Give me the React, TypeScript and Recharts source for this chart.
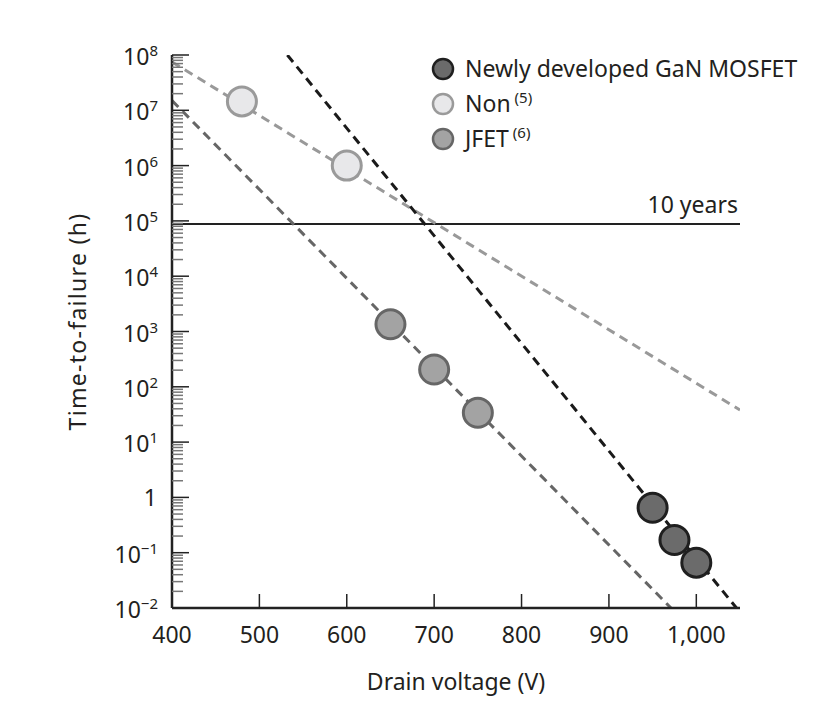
import React from 'react';
import { ComposedChart, XAxis, YAxis, Line, Scatter, ReferenceLine, Label } from 'recharts';

const FONT = '"Noto Sans", sans-serif';
const TXT = '#231f20';
const FS = 23;

// Series data (drain voltage V, time-to-failure h)
const nonPoints = [
  { v: 480, t: 1.45e7 },
  { v: 600, t: 1.0e6 },
];
const jfetPoints = [
  { v: 650, t: 1.35e3 },
  { v: 700, t: 2.05e2 },
  { v: 750, t: 3.4e1 },
];
const ganPoints = [
  { v: 950, t: 0.65 },
  { v: 975, t: 0.17 },
  { v: 1000, t: 0.066 },
];
// Fitted trend lines (end points)
const nonFit = [
  { v: 400, t: 7.5e7 },
  { v: 1050, t: 38 },
];
const jfetFit = [
  { v: 400, t: 1.5e7 },
  { v: 971, t: 0.01 },
];
const ganFit = [
  { v: 532, t: 1e8 },
  { v: 1046, t: 0.01 },
];
const tenYears = 87600;

const xTicks = [400, 500, 600, 700, 800, 900, 1000];
const xTickLabels = ['400', '500', '600', '700', '800', '900', '1,000'];
const yMajorExp = [-2, -1, 0, 1, 2, 3, 4, 5, 6, 7, 8];
const yMajorTicks = yMajorExp.map((e) => Math.pow(10, e));
const yMinorMult = [2, 3, 4, 5, 6, 7, 8, 9];
const yAllTicks: number[] = [];
yMajorExp.forEach((e, i) => {
  yAllTicks.push(yMajorTicks[i]);
  if (e < 8) yMinorMult.forEach((m) => yAllTicks.push(m * Math.pow(10, e)));
});

const legendItems = [
  { name: 'Newly developed GaN MOSFET', sup: '', fill: '#6b6b6b', stroke: '#1f1f1f' },
  { name: 'Non', sup: '(5)', fill: '#e8e8ea', stroke: '#9a9a9a' },
  { name: 'JFET', sup: '(6)', fill: '#a3a3a3', stroke: '#666666' },
];

const YTick = (props: any) => {
  const { x, y, payload } = props;
  const v = payload.value as number;
  const lg = Math.log10(v);
  const e = Math.round(lg);
  const major = Math.abs(lg - e) < 1e-6;
  if (!major) {
    return <line x1={x} x2={x + 11} y1={y} y2={y} stroke="#777" strokeWidth={1.5} />;
  }
  let label: React.ReactNode;
  if (e === 0) {
    label = (
      <text x={x - 15} y={y + 9} textAnchor="end" fontSize={FS} fill={TXT} fontFamily={FONT}>
        1
      </text>
    );
  } else {
    const sup = e < 0 ? '\u2212' + Math.abs(e) : String(e);
    label = (
      <text x={x - 14} y={y + 10} textAnchor="end" fontSize={FS} fill={TXT} fontFamily={FONT}>
        <tspan>10</tspan>
        <tspan dy={-9} fontSize={15}>
          {sup}
        </tspan>
      </text>
    );
  }
  return (
    <g>
      {e > -2 && <line x1={x} x2={x + 17} y1={y} y2={y} stroke="#222" strokeWidth={1.5} />}
      {label}
    </g>
  );
};

const XTick = (props: any) => {
  const { x, y, payload } = props;
  const idx = xTicks.indexOf(payload.value);
  return (
    <g>
      {idx > 0 && <line x1={x} x2={x} y1={y} y2={y - 14} stroke="#222" strokeWidth={1.5} />}
      <text x={x} y={y + 35} textAnchor="middle" fontSize={FS} fill={TXT} fontFamily={FONT}>
        {xTickLabels[idx]}
      </text>
    </g>
  );
};

const circleShape = (fill: string, stroke: string) => (p: any) => (
  <circle cx={p.cx} cy={p.cy} r={14.5} fill={fill} stroke={stroke} strokeWidth={3} />
);

const LegendSvg = () => (
  <g>
    {legendItems.map((it, i) => {
      const cy = 61 + i * 35;
      return (
        <g key={it.name}>
          <circle cx={435} cy={cy} r={10} fill={it.fill} stroke={it.stroke} strokeWidth={2.5} />
          <text x={457} y={cy + 8} fontSize={FS} fill={TXT} fontFamily={FONT}>
            <tspan>{it.name}</tspan>
            {it.sup && (
              <tspan dx={4} dy={-9} fontSize={15}>
                {it.sup}
              </tspan>
            )}
          </text>
        </g>
      );
    })}
  </g>
);

export default function App() {
  return (
    <div style={{ width: 815, height: 690, fontFamily: FONT }}>
      <ComposedChart width={815} height={690} margin={{ top: 47, right: 83, left: 0, bottom: 40 }}>
        <XAxis
          type="number"
          dataKey="v"
          domain={[400, 1050]}
          ticks={xTicks}
          interval={0}
          tick={<XTick />}
          tickSize={0}
          tickMargin={0}
          height={50}
          stroke="#222"
          strokeWidth={2.5}
          allowDataOverflow
        >
          <Label
            content={(p: any) => {
              const vb = p.viewBox;
              return (
                <text x={vb.x + vb.width / 2} y={vb.y + 82} textAnchor="middle" fontSize={FS} fill={TXT} fontFamily={FONT}>
                  Drain voltage (V)
                </text>
              );
            }}
          />
        </XAxis>
        <YAxis
          type="number"
          dataKey="t"
          scale="log"
          domain={[0.01, 1e8]}
          ticks={yAllTicks}
          interval={0}
          tick={<YTick />}
          tickSize={0}
          tickMargin={0}
          width={164}
          stroke="#222"
          strokeWidth={2.5}
          allowDataOverflow
        >
          <Label
            content={(p: any) => {
              const vb = p.viewBox;
              const cx = 69;
              const cy = vb.y + vb.height / 2 - 10;
              return (
                <text
                  x={cx}
                  y={cy}
                  transform={`rotate(-90 ${cx} ${cy})`}
                  textAnchor="middle"
                  dominantBaseline="central"
                  fontSize={FS}
                  letterSpacing={1.3}
                  fill={TXT}
                  fontFamily={FONT}
                >
                  Time-to-failure (h)
                </text>
              );
            }}
          />
        </YAxis>
        <ReferenceLine
          y={tenYears}
          stroke="#222"
          strokeWidth={2}
          label={(p: any) => {
            const vb = p.viewBox;
            return (
              <text x={vb.x + vb.width - 2} y={vb.y - 11} textAnchor="end" fontSize={FS} fill={TXT} fontFamily={FONT}>
                10 years
              </text>
            );
          }}
        />
        <Scatter data={nonPoints} dataKey="t" shape={circleShape('#e8e8ea', '#9a9a9a')} isAnimationActive={false} />
        <Scatter data={jfetPoints} dataKey="t" shape={circleShape('#a3a3a3', '#666666')} isAnimationActive={false} />
        <Scatter data={ganPoints} dataKey="t" shape={circleShape('#6b6b6b', '#1f1f1f')} isAnimationActive={false} />
        <Line data={nonFit} dataKey="t" stroke="#999999" strokeWidth={3} strokeDasharray="9 6" dot={false} isAnimationActive={false} />
        <Line data={jfetFit} dataKey="t" stroke="#666666" strokeWidth={3} strokeDasharray="9 6" dot={false} isAnimationActive={false} />
        <Line data={ganFit} dataKey="t" stroke="#1a1a1a" strokeWidth={3} strokeDasharray="9 6" dot={false} isAnimationActive={false} />
        <LegendSvg />
      </ComposedChart>
    </div>
  );
}
